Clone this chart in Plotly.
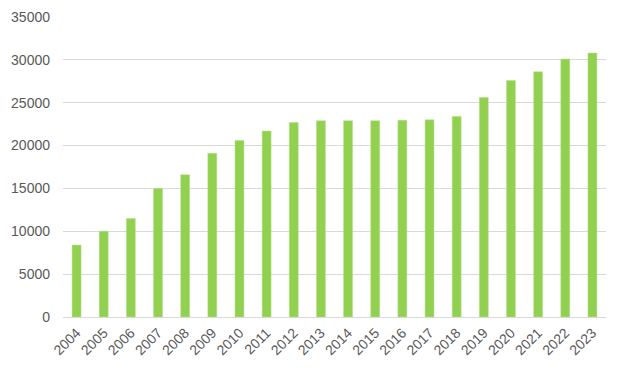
import plotly.graph_objects as go

years = ["2004", "2005", "2006", "2007", "2008", "2009", "2010", "2011", "2012", "2013",
         "2014", "2015", "2016", "2017", "2018", "2019", "2020", "2021", "2022", "2023"]
values = [8400, 10000, 11500, 15000, 16600, 19100, 20600, 21700, 22700, 22900,
          22900, 22900, 22950, 23000, 23400, 25600, 27600, 28600, 30100, 30800]
y_ticks = [0, 5000, 10000, 15000, 20000, 25000, 30000, 35000]

fig = go.Figure(go.Bar(
    x=years, y=values,
    marker=dict(color="#92D050", line=dict(color="#B5E08A", width=0.5)),
))

# the page body adds an 8px offset, so the figure is sized to fit the window
fig.update_layout(
    width=616, height=365,
    margin=dict(l=55, r=18, t=9, b=56),
    paper_bgcolor="white", plot_bgcolor="white",
    bargap=0.67,
    showlegend=False,
    font=dict(family="Liberation Sans, Arial, sans-serif", size=14, color="#595959"),
)
fig.update_xaxes(
    tickangle=-45, showgrid=False, showline=False, ticks="", automargin=False,
    ticklabelstandoff=4,
    tickfont=dict(size=14, color="#595959"),
)
fig.update_yaxes(
    range=[0, 35000], tickvals=y_ticks, ticktext=[str(v) for v in y_ticks],
    showgrid=True, gridcolor="#D9D9D9", gridwidth=1, automargin=False,
    zeroline=True, zerolinecolor="#D9D9D9", zerolinewidth=1,
    showline=False, ticks="", ticklabelstandoff=12,
    tickfont=dict(size=14, color="#595959"),
)

fig.write_html("out.html")
